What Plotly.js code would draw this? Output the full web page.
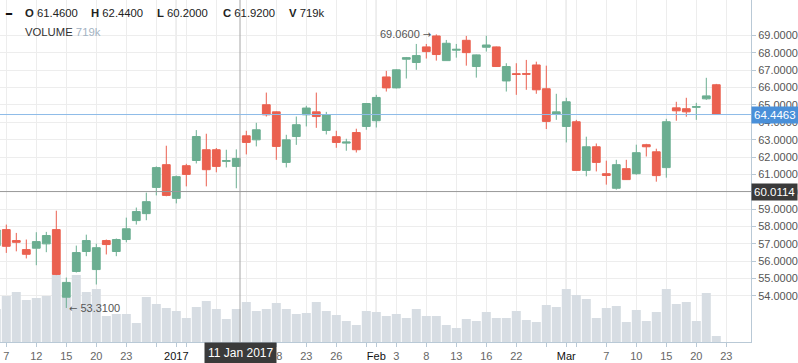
<!DOCTYPE html>
<html><head><meta charset="utf-8">
<script src="https://cdn.plot.ly/plotly-3.0.1.min.js"></script>
<style>html,body{margin:0;padding:0;background:#fff;}#chart{width:798px;height:363px;}</style>
</head><body><div id="chart"></div>
<script>
// Trading calendar (Dec 6 2016 .. Mar 23 2017)
const dates = [
 '2016-12-06','2016-12-07','2016-12-08','2016-12-09','2016-12-12','2016-12-13','2016-12-14','2016-12-15','2016-12-16',
 '2016-12-19','2016-12-20','2016-12-21','2016-12-22','2016-12-23','2016-12-27','2016-12-28','2016-12-29','2016-12-30',
 '2017-01-03','2017-01-04','2017-01-05','2017-01-06','2017-01-09','2017-01-10','2017-01-11','2017-01-12','2017-01-13',
 '2017-01-17','2017-01-18','2017-01-19','2017-01-20','2017-01-23','2017-01-24','2017-01-25','2017-01-26','2017-01-27',
 '2017-01-30','2017-01-31',
 '2017-02-01','2017-02-02','2017-02-03','2017-02-06','2017-02-07','2017-02-08','2017-02-09','2017-02-10','2017-02-13',
 '2017-02-14','2017-02-15','2017-02-16','2017-02-17','2017-02-21','2017-02-22','2017-02-23','2017-02-24','2017-02-27',
 '2017-02-28',
 '2017-03-01','2017-03-02','2017-03-03','2017-03-06','2017-03-07','2017-03-08','2017-03-09','2017-03-10','2017-03-13',
 '2017-03-14','2017-03-15','2017-03-16','2017-03-17','2017-03-20','2017-03-21','2017-03-22','2017-03-23'
];
const open = [
 56.90,57.82,57.19,56.67,56.75,57.00,57.82,53.93,55.41,
 56.56,55.52,57.19,56.56,57.25,58.34,58.74,60.25,61.56,
 59.62,61.50,61.80,62.42,62.42,61.75,61.46,63.22,62.99,
 65.01,64.60,61.69,63.18,64.43,64.60,63.53,63.17,62.80,
 63.41,63.76,
 64.09,66.61,65.98,67.63,67.44,68.34,68.97,67.55,68.15,
 68.72,67.21,68.32,68.34,66.38,66.80,66.80,67.30,65.93,
 64.47,
 63.76,64.03,61.23,62.59,61.04,60.20,61.33,61.04,62.71,
 62.30,61.39,64.83,64.78,64.86,65.35,66.16
];
const high = [
 58.20,58.11,57.63,57.25,57.67,57.69,58.91,55.06,56.90,
 57.53,57.01,57.25,57.31,58.51,59.09,59.95,61.46,62.65,
 60.93,61.61,63.55,63.34,62.52,62.42,62.44,63.51,63.97,
 65.71,64.62,63.28,64.33,64.95,65.71,64.60,63.51,63.05,
 63.63,65.10,
 65.58,66.96,67.05,67.76,68.51,68.51,69.06,68.74,68.51,
 68.97,67.90,68.98,68.36,67.40,67.40,67.59,67.49,67.26,
 65.64,
 65.41,64.14,63.17,62.78,61.79,61.84,61.84,62.71,62.76,
 62.48,64.20,65.18,65.41,65.12,66.56,66.21
];
const low = [
 56.40,56.48,56.57,56.16,55.77,56.52,55.20,53.31,55.35,
 56.29,54.66,56.39,56.29,57.09,58.11,58.36,59.79,59.74,
 59.33,60.31,61.63,60.31,61.12,61.40,60.20,62.15,62.61,
 64.33,61.84,61.40,62.70,63.76,63.68,63.30,62.53,62.36,
 62.26,63.57,
 63.70,65.77,65.95,66.52,67.02,67.67,67.55,67.55,67.72,
 67.26,66.57,68.07,67.19,65.77,65.58,65.87,65.64,63.61,
 64.14,
 62.84,61.20,60.89,61.17,60.41,60.12,60.68,60.98,62.03,
 60.58,60.81,64.09,64.32,64.14,65.29,64.45
];
const close = [
 57.80,56.86,57.09,56.40,57.13,57.48,55.24,54.78,56.50,
 57.19,56.78,56.96,57.25,57.87,58.86,59.43,61.39,59.79,
 60.87,61.00,63.18,61.27,61.46,61.79,61.92,62.84,63.57,
 64.43,62.61,62.99,63.86,64.82,64.33,64.43,62.84,62.86,
 62.42,65.08,
 65.43,65.98,67.02,67.72,67.84,68.07,67.90,68.55,68.20,
 68.01,67.88,68.45,67.21,67.21,66.75,66.77,65.87,64.05,
 64.60,
 65.18,61.23,62.59,61.69,60.94,61.56,60.70,62.25,62.59,
 60.93,64.03,64.66,64.60,64.90,65.52,64.4463
];
// volume in thousands
const volume = [
 719,1002,1090,915,959,1002,1460,1000,1460,
 1090,1155,567,610,610,414,981,828,741,
 676,523,763,893,719,501,719,872,676,
 719,850,719,610,632,872,676,588,458,
 370,676,
 654,567,610,523,719,567,567,370,305,
 501,458,654,523,523,676,479,436,806,
 763,
 1155,1024,937,523,741,784,436,697,458,
 654,1155,828,872,458,1068,131
];
const tickDates = ['2016-12-07','2016-12-12','2016-12-15','2016-12-20','2016-12-23','2016-12-29',
 '2017-01-03','2017-01-04','2017-01-09','2017-01-12','2017-01-18','2017-01-23','2017-01-26','2017-01-31',
 '2017-02-01','2017-02-03','2017-02-08','2017-02-13','2017-02-16','2017-02-22','2017-02-27',
 '2017-03-01','2017-03-02','2017-03-07','2017-03-10','2017-03-15','2017-03-20','2017-03-23'];
// labels under the crosshair date box (9, 12 Jan) are hidden, as in the reference
const tickLabels = ['7','12','15','20','23','',
 '2017','','','','18','23','26','',
 'Feb','3','8','13','16','22','',
 'Mar','','7','10','15','20','23'];
const monthStarts = ['2017-01-03','2017-02-01','2017-03-01'];
const priceTicks = [54,55,56,57,58,59,60,61,62,63,64,65,66,67,68,69];
const crosshairDate = '2017-01-11';
const crosshairLabel = '11 Jan 2017';
const crosshairPrice = 60.0114;

const n = open.length;
const idx = d => dates.indexOf(d);
const xs = dates.slice(0, n).map((d, i) => i);
const GREEN = '#6bae91', RED = '#ea604f';
const FONT = 'Liberation Sans, Arial, sans-serif';
const ARROW = '<span style="font-family:DejaVu Sans;font-size:10px">';
const monthSet = new Set(monthStarts);

const traces = [
  {type:'bar', x: xs, y: volume, xaxis:'x', yaxis:'y', marker:{color:'#d7dde3', line:{width:0}}, hoverinfo:'skip'},
  {type:'candlestick', x: xs, open, high, low, close, xaxis:'x', yaxis:'y2',
   increasing:{line:{color:GREEN, width:1}, fillcolor:GREEN},
   decreasing:{line:{color:RED, width:1}, fillcolor:RED},
   whiskerwidth:0, hoverinfo:'skip'}
];

// extremes
let hiI = 0, loI = 0;
for (let i = 0; i < n; i++) { if (high[i] > high[hiI]) hiI = i; if (low[i] < low[loI]) loI = i; }
const ci = idx(crosshairDate);
const crossX = ci + 0.37;

const shapes = [];
monthStarts.forEach(d => shapes.push({type:'line', xref:'x', yref:'paper', x0: idx(d), x1: idx(d), y0:0, y1:1,
  line:{color:'#b3b3b3', width:1}, layer:'below'}));
shapes.push({type:'line', xref:'x', yref:'paper', x0: crossX, x1: crossX, y0:0, y1:1, line:{color:'#a6a6a6', width:1}});
shapes.push({type:'line', xref:'paper', yref:'y2', x0:0, x1:1, y0: crosshairPrice, y1: crosshairPrice, line:{color:'#999', width:1}});
shapes.push({type:'line', xref:'paper', yref:'y2', x0:0, x1:1, y0: close[n-1], y1: close[n-1], line:{color:'#8ebbe8', width:1}});

const W = 751, H = 342;
const annotations = [];
// header
const hdrY = 1 - 12.5 / H;
annotations.push({xref:'paper', yref:'paper', x: 3 / W, y: hdrY, xanchor:'left', yanchor:'middle', showarrow:false,
  text:'<b>–</b>', font:{family:'DejaVu Sans', size:16, color:'#111'}});
const fmtV = v => Math.round(v) + 'k';
const hdr = [['O', open[ci].toFixed(4)], ['H', high[ci].toFixed(4)], ['L', low[ci].toFixed(4)], ['C', close[ci].toFixed(4)], ['V', fmtV(volume[ci])]];
hdr.forEach((p, k) => annotations.push({xref:'paper', yref:'paper', x: (23 + 66 * k) / W, y: hdrY, xanchor:'left', yanchor:'middle',
  showarrow:false, text:'<b>' + p[0] + '</b> ' + p[1], font:{family:FONT, size:11.3, color:'#222'}}));
annotations.push({xref:'paper', yref:'paper', x: 23 / W, y: 1 - 32 / H, xanchor:'left', yanchor:'middle', showarrow:false,
  text:'VOLUME <span style="color:#a3b3c3">' + fmtV(volume[ci]) + '</span>', font:{family:FONT, size:11.3, color:'#333'}});
// extremes
annotations.push({xref:'x', yref:'y2', x: hiI, y: high[hiI], xanchor:'right', yanchor:'middle', xshift:-3, showarrow:false,
  text: high[hiI].toFixed(4) + ' ' + ARROW + '→</span>', font:{family:FONT, size:11, color:'#555'}});
annotations.push({xref:'x', yref:'y2', x: loI, y: low[loI], xanchor:'left', yanchor:'middle', xshift:1, showarrow:false,
  text: ARROW + '←</span> ' + low[loI].toFixed(4), font:{family:FONT, size:11, color:'#555'}});
// axis boxes
annotations.push({xref:'paper', yref:'y2', x:1, y: close[n-1], xanchor:'left', yanchor:'middle', showarrow:false,
  text: close[n-1].toFixed(4), bgcolor:'#4a90d9', borderpad:2, font:{family:FONT, size:11.5, color:'#fff'}});
annotations.push({xref:'paper', yref:'y2', x:1, y: crosshairPrice, xanchor:'left', yanchor:'middle', showarrow:false,
  text: crosshairPrice.toFixed(4), bgcolor:'#3a3a3a', borderpad:2, font:{family:FONT, size:11.5, color:'#fff'}});
annotations.push({xref:'x', yref:'paper', x: crossX, y: 0, xanchor:'center', yanchor:'top', showarrow:false,
  text: crosshairLabel, bgcolor:'#3a3a3a', borderpad:3, font:{family:FONT, size:12, color:'#fff'}});

const layout = {
  width:798, height:363, margin:{l:0, r:47, t:0, b:21, pad:0},
  paper_bgcolor:'#fff', plot_bgcolor:'#fff', showlegend:false,
  font:{family:FONT, size:11, color:'#555'},
  bargap:0.1, boxgap:0.22, boxgroupgap:0,
  xaxis:{type:'linear', range:[0.37, 75.47], fixedrange:true, rangeslider:{visible:false},
    tickmode:'array', tickvals: tickDates.map(idx),
    ticktext: tickLabels.map((t, k) => monthSet.has(tickDates[k]) ? '<span style="color:#111">' + t + '</span>' : t),
    ticks:'outside', ticklen:4, tickcolor:'#b9c9d6', showgrid:true, gridcolor:'#ededed', gridwidth:1,
    showline:true, linecolor:'#b9c9d6', linewidth:1, zeroline:false, tickfont:{family:FONT, size:11, color:'#666'}},
  yaxis:{range:[0, 7452], visible:false, showgrid:false, zeroline:false, fixedrange:true},
  yaxis2:{overlaying:'y', side:'right', range:[51.35, 71.04], tickmode:'array', tickvals: priceTicks,
    ticktext: priceTicks.map(v => v.toFixed(4)), ticks:'outside', ticklen:4, tickcolor:'#b9c9d6',
    showgrid:true, gridcolor:'#ededed', gridwidth:1, showline:true, linecolor:'#b9c9d6', linewidth:1,
    zeroline:false, fixedrange:true, tickfont:{family:FONT, size:11, color:'#555'}},
  shapes, annotations
};
Plotly.newPlot('chart', traces, layout, {displayModeBar:false, staticPlot:true});
</script></body></html>
